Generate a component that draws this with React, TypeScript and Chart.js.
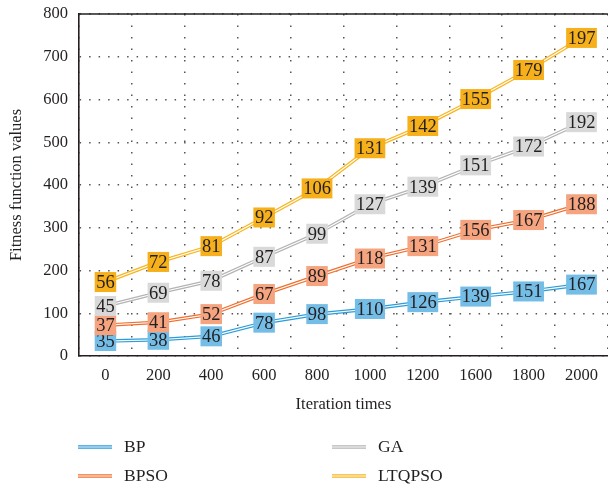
import React, { useEffect, useRef } from "react";
import { Chart, registerables } from "chart.js";

Chart.register(...registerables);

// Iteration checkpoints (x categories)
const iterations = ["0", "200", "400", "600", "800", "1000", "1200", "1600", "1800", "2000"];

// Per-algorithm fitness values (stacked on the value axis)
const bpValues = [35, 38, 46, 78, 98, 110, 126, 139, 151, 167];
const bpsoValues = [37, 41, 52, 67, 89, 118, 131, 156, 167, 188];
const gaValues = [45, 69, 78, 87, 99, 127, 139, 151, 172, 192];
const ltqpsoValues = [56, 72, 81, 92, 106, 131, 142, 155, 179, 197];

const seriesNames = ["BP", "BPSO", "GA", "LTQPSO"];
const seriesValues = [bpValues, bpsoValues, gaValues, ltqpsoValues];

// Value axis
const yMin = 0;
const yMax = 800;
const yStep = 100;

const lineColors = ["#2a9dd8", "#f06f2e", "#b4b4b4", "#f9b41e"];
const labelFills = ["#74bde6", "#f5a47f", "#d9d9d9", "#f6b01c"];

const SERIF = '"Liberation Serif", "DejaVu Serif", serif';
const INK = "#231f20";

const decorations = {
  id: "decorations",
  afterDatasetsDraw(chart: any) {
    const ctx = chart.ctx as CanvasRenderingContext2D;
    const { top, left, right } = chart.chartArea;
    ctx.save();

    // solid frame line along the top of the plot
    ctx.strokeStyle = INK;
    ctx.lineWidth = 1.6;
    ctx.beginPath();
    ctx.moveTo(left, top);
    ctx.lineTo(right, top);
    ctx.stroke();

    // white centre stripe gives each series a double-line look
    chart.data.datasets.forEach((_ds: any, i: number) => {
      const meta = chart.getDatasetMeta(i);
      ctx.strokeStyle = "#ffffff";
      ctx.lineWidth = 1.2;
      ctx.beginPath();
      meta.data.forEach((p: any, j: number) => {
        if (j === 0) ctx.moveTo(p.x, p.y);
        else ctx.lineTo(p.x, p.y);
      });
      ctx.stroke();
    });

    // value tags on every point
    ctx.font = `18.5px ${SERIF}`;
    ctx.textAlign = "center";
    ctx.textBaseline = "middle";
    chart.data.datasets.forEach((ds: any, i: number) => {
      const meta = chart.getDatasetMeta(i);
      meta.data.forEach((p: any, j: number) => {
        const txt = String(ds.data[j]);
        const w = ctx.measureText(txt).width + 3;
        ctx.fillStyle = labelFills[i];
        ctx.fillRect(p.x - w / 2, p.y - 10, w, 20);
        ctx.fillStyle = INK;
        ctx.fillText(txt, p.x, p.y + 1);
      });
    });
    ctx.restore();
  },
  afterDraw(chart: any) {
    const ctx = chart.ctx as CanvasRenderingContext2D;
    ctx.save();
    const spots = [
      { x: 78, y: 447 },
      { x: 78, y: 476 },
      { x: 332, y: 447 },
      { x: 332, y: 476 },
    ];
    ctx.font = `17.5px ${SERIF}`;
    ctx.textAlign = "left";
    ctx.textBaseline = "middle";
    seriesNames.forEach((name, i) => {
      const { x, y } = spots[i];
      ctx.strokeStyle = lineColors[i];
      ctx.lineWidth = 3.6;
      ctx.beginPath();
      ctx.moveTo(x, y);
      ctx.lineTo(x + 34, y);
      ctx.stroke();
      ctx.strokeStyle = "#ffffff";
      ctx.lineWidth = 1.2;
      ctx.beginPath();
      ctx.moveTo(x, y);
      ctx.lineTo(x + 34, y);
      ctx.stroke();
      ctx.fillStyle = INK;
      ctx.fillText(name, x + 46, y);
    });
    ctx.restore();
  },
};

export default function App() {
  const canvasRef = useRef<HTMLCanvasElement | null>(null);

  useEffect(() => {
    if (!canvasRef.current) return;
    const chart = new Chart(canvasRef.current, {
      type: "line",
      data: {
        labels: iterations,
        datasets: seriesNames.map((name, i) => ({
          label: name,
          data: seriesValues[i],
          borderColor: lineColors[i],
          backgroundColor: lineColors[i],
          borderWidth: 3.6,
          pointRadius: 0,
          pointHoverRadius: 0,
          tension: 0,
          fill: false,
          stack: "all",
        })),
      },
      options: {
        responsive: true,
        maintainAspectRatio: false,
        animation: false,
        events: [],
        layout: { padding: { top: 14, right: 0, bottom: 60, left: 0 } },
        plugins: {
          legend: { display: false },
          tooltip: { enabled: false },
        },
        scales: {
          x: {
            type: "category",
            offset: true,
            grid: {
              display: true,
              offset: true,
              drawTicks: false,
              color: "#555555",
              lineWidth: 1.5,
            },
            border: { display: true, color: INK, width: 1.6, dash: [1.5, 10] },
            ticks: {
              padding: 10,
              color: INK,
              font: { family: SERIF, size: 16.5 },
              maxRotation: 0,
              autoSkip: false,
            },
            title: {
              display: true,
              text: "Iteration times",
              color: INK,
              font: { family: SERIF, size: 16.5 },
              padding: { top: 0, bottom: 10 },
            },
            afterFit(scale: any) {
              scale.height = 69;
            },
          },
          y: {
            stacked: true,
            min: yMin,
            max: yMax,
            grid: {
              display: true,
              drawTicks: false,
              color: "#555555",
              lineWidth: 1.5,
            },
            border: { display: true, color: INK, width: 1.6, dash: [1.5, 8] },
            ticks: {
              stepSize: yStep,
              padding: 11,
              color: INK,
              font: { family: SERIF, size: 16.5 },
            },
            title: {
              display: true,
              text: "Fitness function values",
              color: INK,
              font: { family: SERIF, size: 16.5 },
              padding: { top: 7, bottom: 0 },
            },
            afterFit(scale: any) {
              scale.width = 79;
              scale.paddingTop = 0;
            },
          },
        },
      },
      plugins: [decorations],
    });
    return () => chart.destroy();
  }, []);

  return (
    <div style={{ position: "absolute", left: 0, top: 0, width: 608, height: 485, background: "#ffffff" }}>
      <canvas ref={canvasRef} />
    </div>
  );
}
